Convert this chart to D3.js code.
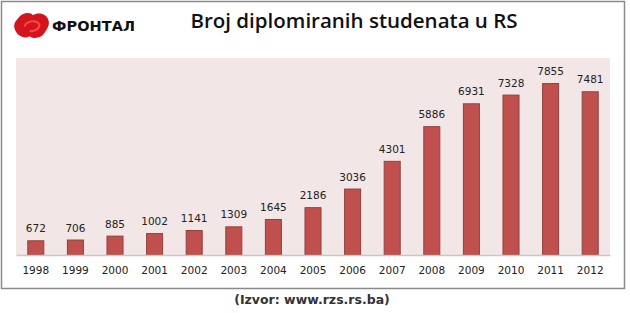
<!DOCTYPE html>
<html>
<head>
<meta charset="utf-8">
<script src="https://cdn.jsdelivr.net/npm/d3@7"></script>
<style>
  body { margin: 0; background: #fff; }
</style>
</head>
<body>
<svg id="chart"></svg>
<script>
// Data
const years = ["1998", "1999", "2000", "2001", "2002", "2003", "2004", "2005",
               "2006", "2007", "2008", "2009", "2010", "2011", "2012"];
const graduates = [672, 706, 885, 1002, 1141, 1309, 1645, 2186,
                   3036, 4301, 5886, 6931, 7328, 7855, 7481];
const titleText = "Broj diplomiranih studenata u RS";
const sourceText = "(Izvor: www.rzs.rs.ba)";
const logoText = "ФРОНТАЛ";

let width = 630, height = 313;
let margin = { top: 58, bottom: 58, left: 16, right: 20 };

let svg = d3.select('#chart')
    .attr('width', width)
    .attr('height', height);

// outer frame
svg.append('rect')
    .attr('x', 1.5).attr('y', 1.5)
    .attr('width', 623).attr('height', 287)
    .attr('fill', '#fff')
    .attr('stroke', '#8a8a8a')
    .attr('stroke-width', 1.5);

// scales
let xScale = d3.scaleBand()
    .domain(years)
    .range([margin.left, width - margin.right])
    .paddingInner(0.57)
    .paddingOuter(0.285);

let yScale = d3.scaleLinear()
    .domain([0, 9000])
    .range([255, margin.top]);

// plot background
svg.append('rect')
    .attr('x', margin.left)
    .attr('y', yScale(9000))
    .attr('width', (width - margin.right) - margin.left)
    .attr('height', yScale(0) - yScale(9000))
    .attr('fill', '#f2e6e6');

// bars
svg.selectAll('.bar')
    .data(graduates)
    .enter()
    .append('rect')
    .attr('class', 'bar')
    .attr('x', (d, i) => xScale(years[i]) + 0.5)
    .attr('y', d => yScale(d) + 0.5)
    .attr('width', xScale.bandwidth() - 1)
    .attr('height', d => yScale(0) - yScale(d) - 0.5)
    .attr('fill', '#c0504d')
    .attr('stroke', '#93403d')
    .attr('stroke-width', 1);

// value labels
svg.selectAll('.val')
    .data(graduates)
    .enter()
    .append('text')
    .attr('class', 'val')
    .attr('x', (d, i) => xScale(years[i]) + xScale.bandwidth() / 2)
    .attr('y', d => yScale(d) - 8)
    .attr('text-anchor', 'middle')
    .attr('font-family', 'DejaVu Sans, Verdana, sans-serif')
    .attr('font-size', 10.5)
    .attr('fill', '#222')
    .text(d => d);

// x axis
let xAxis = svg.append('g')
    .attr('transform', `translate(0, ${yScale(0)})`)
    .call(d3.axisBottom(xScale).tickSize(0).tickPadding(12));
xAxis.select('.domain')
    .attr('stroke', '#c8c8c8')
    .attr('stroke-width', 1.5);
xAxis.selectAll('text')
    .attr('font-family', 'DejaVu Sans, Verdana, sans-serif')
    .attr('font-size', 10.5)
    .attr('fill', '#222');

// title
svg.append('text')
    .attr('x', 354)
    .attr('y', 28)
    .attr('text-anchor', 'middle')
    .attr('font-family', 'Open Sans, sans-serif')
    .attr('font-weight', 600)
    .attr('font-size', 20.5)
    .attr('fill', '#111')
    .text(titleText);

// logo mark
let logo = svg.append('g').attr('transform', 'translate(14, 12) scale(1.05)');
logo.append('path')
    .attr('d', 'M4,6 C8,0 16,0 18,3 C22,0 30,1 32,6 C35,11 32,16 29,20 C26,25 18,26 15,23 C10,26 3,23 1,17 C-1,12 1,9 4,6 Z')
    .attr('fill', '#d4131b');
logo.append('path')
    .attr('d', 'M10,14 C12,8 22,7 24,12 C25,16 19,19 15,18')
    .attr('fill', 'none')
    .attr('stroke', '#f04a4f')
    .attr('stroke-width', 2);
svg.append('text')
    .attr('x', 52)
    .attr('y', 31)
    .attr('font-family', 'DejaVu Sans, sans-serif')
    .attr('font-weight', 'bold')
    .attr('font-size', 14.5)
    .attr('textLength', 83)
    .attr('fill', '#111')
    .text(logoText);

// source
svg.append('text')
    .attr('x', 312)
    .attr('y', 304)
    .attr('text-anchor', 'middle')
    .attr('font-family', 'DejaVu Sans, Verdana, sans-serif')
    .attr('font-weight', 'bold')
    .attr('font-size', 12.5)
    .attr('fill', '#333')
    .text(sourceText);
</script>
</body>
</html>
